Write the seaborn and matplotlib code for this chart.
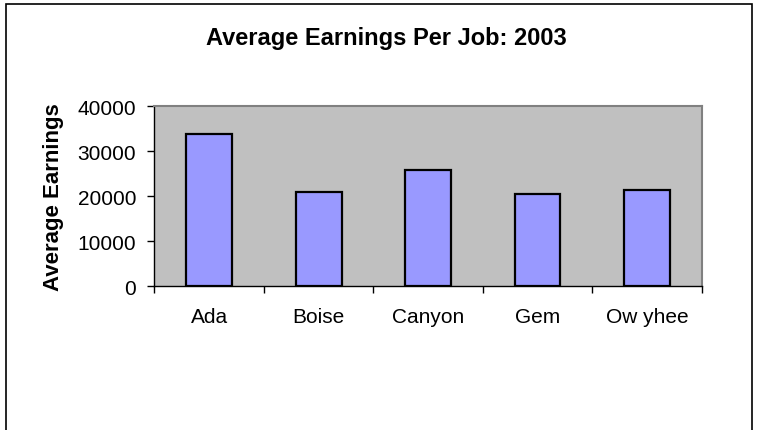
import matplotlib
matplotlib.use("Agg")
import matplotlib.pyplot as plt
import seaborn as sns
import pandas as pd
from matplotlib.patches import Rectangle

# chart data
counties = ["Ada", "Boise", "Canyon", "Gem", "Ow yhee"]
earnings = [33800, 20900, 25800, 20500, 21300]
y_ticks = [0, 10000, 20000, 30000, 40000]

df = pd.DataFrame({"county": counties, "earnings": earnings})

sns.set_style("white")
plt.rcParams["font.family"] = ["Liberation Sans", "DejaVu Sans"]
plt.rcParams["text.color"] = "black"
plt.rcParams["axes.labelcolor"] = "black"
plt.rcParams["xtick.color"] = "black"
plt.rcParams["ytick.color"] = "black"

fig = plt.figure(figsize=(7.57, 4.31), dpi=100)
ax = fig.add_axes([0.2038, 0.3334, 0.7232, 0.4176])
ax.set_facecolor("#C0C0C0")

sns.barplot(data=df, x="county", y="earnings", color="#9999FF", saturation=1,
            width=0.42, edgecolor="black", linewidth=1.6, ax=ax)

ax.set_xlim(-0.5, len(counties) - 0.5)
ax.set_ylim(0, 40000)
ax.set_yticks(y_ticks)
ax.set_yticklabels([str(v) for v in y_ticks])

# category boundaries get the tick marks, labels sit in between
ax.set_xticks([i - 0.5 for i in range(len(counties) + 1)], minor=True)
ax.tick_params(axis="x", which="major", length=0, pad=15, labelsize=15, labelcolor="black")
ax.tick_params(axis="x", which="minor", length=5, width=1, color="black", direction="out")
ax.tick_params(axis="y", length=5, width=1, color="black", direction="out", pad=8,
               labelsize=15, labelcolor="black")
ax.xaxis.set_ticks_position("bottom")
ax.yaxis.set_ticks_position("left")

ax.set_xlabel("")
ax.set_ylabel("Average Earnings", fontsize=16, fontweight="bold", labelpad=10, color="black")

# title is centred on the whole chart, not on the plot area
fig.text(386 / 757, 1 - 38 / 431, "Average Earnings Per Job: 2003", fontsize=17,
         fontweight="bold", ha="center", va="center", color="black")

for side in ["left", "bottom"]:
    ax.spines[side].set_color("black")
    ax.spines[side].set_linewidth(1)
for side in ["top", "right"]:
    ax.spines[side].set_color("#808080")
    ax.spines[side].set_linewidth(1.5)

# outer chart frame, open at the bottom like the reference
frame = Rectangle((6 / 757, -0.1), 746 / 757, 1.1 - 5 / 431, transform=fig.transFigure,
                  fill=False, edgecolor="black", linewidth=1.2, clip_on=False)
fig.patches.append(frame)

fig.savefig("out.png", dpi=100)
